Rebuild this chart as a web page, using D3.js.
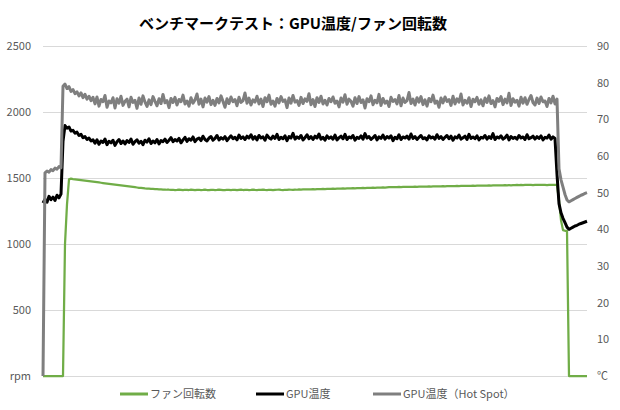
<!DOCTYPE html>
<html><head><meta charset="utf-8">
<script src="https://cdn.jsdelivr.net/npm/d3@7"></script>
<style>
body{margin:0;background:#fff;}
text{font-family:"Noto Sans CJK JP","Noto Sans",sans-serif;}
</style></head>
<body><svg id="c" width="620" height="410"></svg>
<script>
const title = "ベンチマークテスト：GPU温度/ファン回転数";
const seriesNames = ["ファン回転数", "GPU温度", "GPU温度（Hot Spot）"];
const leftTicks = [0, 500, 1000, 1500, 2000, 2500];
const leftTickLabels = ["rpm", "500", "1000", "1500", "2000", "2500"];
const rightTicks = [0, 10, 20, 30, 40, 50, 60, 70, 80, 90];
const rightTickLabels = ["℃", "10", "20", "30", "40", "50", "60", "70", "80", "90"];

// fan speed (rpm), one value per logged sample
const fanRpm = [
0,0,0,0,0,0,0,0,0,0,0,
1000,1300,1490,
1495,1492,1490,1488,1486,1484,1482,1480,1478,1476,
1474,1472,1470,1468,1466,1464,1462,1460,1458,1456,
1454,1452,1450,1448,1446,1444,1442,1440,1438,1436,
1434,1432,1430,1428,1426,1425,1423,1421,1420,1419,
1418,1417,1416,1415,1414,1413,1412,1412,1411,1411,
1410,
1411,1409,1410,1412,1410,1408,1411,1410,1409,1412,
1410,1408,1410,1411,1409,1410,1412,1409,1408,1410,
1411,1409,1410,1412,1410,1408,1409,1411,1410,1409,
1411,1410,1408,1410,1412,1409,1410,1411,1409,1410,
1412,1410,1409,1411,1410,1412,1410,1409,1411,1410,
1408,1410,1411,1412,1410,1409,1411,1410,1412,1411,
1410,1412,1411,1413,
1412,1413,1413,1414,1413,1414,1415,1414,1415,1416,
1416,1417,1416,1417,1418,1418,1419,1418,1419,1420,
1420,1421,1420,1421,1422,1422,1423,1422,1423,1424,
1424,1425,1424,1425,1426,1426,1427,1426,1427,1428,
1428,1429,1428,1429,1430,1430,1431,1430,1431,1432,
1431,1432,1432,1433,1432,1433,1433,1434,1433,1434,
1434,1435,1434,1435,1436,1435,1436,1436,1437,1436,
1437,1438,1437,1438,1438,1439,1438,1439,1440,1439,
1440,1440,1441,1440,1441,1441,1442,1441,1442,1442,
1443,1442,1443,1443,1444,1443,1444,1444,1445,1444,
1445,1445,1446,1445,1446,1445,1446,1446,1447,1446,
1447,1446,1447,1447,1448,1447,1446,1447,1448,1447,
1447,1448,1447,1446,1447,1448,1447,1447,
1447,1330,1180,1105,1100,1100,0,0,0,0,0,0,0,0,0,0
];

// GPU temperature (°C)
const gpuTemp = [
47.2,48.2,47.4,49.0,48.1,48.8,47.9,49.3,48.6,49.6,
64.0,68.3,
67.6,67.9,66.8,67.0,66.2,66.5,65.6,65.9,65.0,65.3,64.5,64.9,64.1,64.4,
63.5,64.4,63.2,64.1,63.7,64.6,63.1,64.0,63.6,64.3,
62.9,63.9,64.5,63.4,64.1,63.3,64.2,63.7,64.6,63.2,
63.9,64.4,63.5,64.0,63.1,64.3,63.8,64.7,63.4,64.1,
63.6,64.5,63.3,64.2,63.9,
64.6,63.7,64.3,65.0,63.9,64.5,64.1,64.8,63.6,64.4,
65.1,64.0,64.7,64.3,65.2,63.9,64.6,64.9,64.2,65.4,
64.5,64.1,64.9,65.3,64.3,64.8,65.6,64.4,65.0,64.6,
65.3,64.2,64.9,65.5,64.7,65.1,64.4,65.7,64.8,65.2,
64.5,65.4,64.9,65.8,64.6,
65.3,64.4,65.6,64.9,65.2,64.3,65.7,65.0,64.6,65.4,
64.8,65.9,64.5,65.1,64.7,65.5,64.2,65.3,64.9,66.2,
64.6,65.2,64.8,65.6,64.4,65.0,65.8,64.7,65.3,64.5,
65.4,64.9,66.0,64.6,65.1,64.3,65.5,64.8,65.2,64.6,
65.7,64.4,65.0,65.4,64.7,65.9,64.5,65.2,64.9,65.6,
64.3,65.1,64.8,65.5,64.6,66.1,64.9,65.3,64.5,65.0,
65.6,64.4,65.2,64.8,65.7,64.6,65.3,64.9,65.5,64.2,
65.1,64.7,65.8,64.5,65.2,64.9,65.4,64.6,66.0,64.8,
65.3,64.5,65.1,65.6,64.7,65.0,64.4,65.5,64.9,65.2,
64.6,65.8,64.8,65.3,64.5,65.1,65.6,64.7,65.4,64.3,
65.2,64.9,65.7,64.6,65.0,65.4,64.5,65.9,64.8,65.2,
64.7,65.5,64.4,65.1,64.9,65.6,64.6,65.3,64.8,66.1,
64.5,65.2,64.9,65.5,64.6,65.0,65.7,64.4,65.3,64.8,
65.1,64.6,65.6,64.9,65.2,64.5,65.8,64.7,65.0,65.4,
64.6,65.3,64.8,65.5,64.4,65.1,64.9,65.7,64.6,65.2,
64.8,
55.0,47.0,44.5,43.0,41.8,40.6,40.0,40.3,40.6,40.9,41.1,41.4,41.6,41.8,42.0,42.2
];

// GPU hot spot temperature (°C)
const hotSpotTemp = [
0,55.4,55.9,55.6,56.3,56.0,56.7,56.4,57.1,56.8,
79.0,79.6,
78.4,78.9,77.6,78.1,77.0,77.5,76.4,77.2,75.9,76.8,75.5,76.3,75.1,76.0,
74.2,76.1,73.6,75.4,74.8,76.5,73.3,75.0,74.5,75.9,
73.1,75.6,74.4,76.3,73.8,74.9,75.5,73.4,76.0,74.6,
75.2,73.0,75.8,74.1,76.4,74.7,73.5,75.3,74.0,76.2,
74.9,73.7,75.6,74.3,76.8,74.5,75.1,73.2,75.7,74.6,
76.0,73.9,75.4,74.8,76.6,74.2,75.0,73.6,75.9,74.4,
75.3,76.9,74.1,75.5,73.4,75.8,74.7,76.2,74.0,75.2,
73.8,75.7,74.5,76.4,74.9,73.3,75.6,74.3,76.1,74.8,
75.4,73.7,76.0,74.6,75.1,77.2,74.4,75.8,73.9,75.3,
74.7,76.3,74.2,75.5,73.5,75.9,74.8,76.6,74.1,75.0,
73.6,75.7,74.5,76.2,74.9,75.3,73.2,75.8,74.4,76.5,
74.7,75.1,73.8,76.0,74.3,75.6,74.9,77.0,74.0,75.4,
73.5,75.9,74.6,76.3,74.2,75.2,73.9,75.7,74.8,76.1,
74.4,75.0,73.4,75.8,74.7,76.7,74.1,75.5,74.9,73.6,
75.9,74.3,76.2,74.6,75.3,73.1,75.6,74.8,76.4,74.0,
75.2,74.5,76.8,73.8,75.7,74.4,75.0,73.5,76.0,74.9,
75.4,74.2,76.5,73.7,75.8,74.6,75.1,77.3,74.3,75.5,
73.9,75.9,74.7,76.2,74.0,75.3,73.6,75.7,74.8,76.6,
74.4,75.0,73.3,75.8,74.5,76.1,74.9,75.4,73.8,76.3,
74.2,75.6,74.7,76.9,73.9,75.2,74.4,75.9,73.5,75.5,
74.8,76.0,74.1,75.3,73.7,75.8,74.6,76.4,74.3,75.1,
73.4,75.7,74.9,76.2,74.0,75.5,74.5,77.1,73.8,75.6,
74.7,75.2,73.6,76.0,74.4,75.9,74.1,75.4,76.5,74.6,
73.9,75.8,74.3,76.1,74.8,75.0,73.5,75.7,74.5,76.3,
74.2,
75.5,56.5,53.5,51.5,49.5,48.0,47.5,47.8,48.1,48.4,48.7,49.0,49.3,49.5,49.8,50.0
];

const colors = ["#70ad47", "#000000", "#7f7f7f"];
const widths = [2.25, 3, 3];

const svg = d3.select("#c");
const L = 43, R = 587, T = 46, B = 376;
const n = Math.max(fanRpm.length, gpuTemp.length, hotSpotTemp.length);
const x = d3.scaleLinear().domain([0, n - 1]).range([L, R]);
const yL = d3.scaleLinear().domain([0, 2500]).range([B, T]);
const yR = d3.scaleLinear().domain([0, 90]).range([B, T]);

// title
svg.append("text").attr("x", 293).attr("y", 29).attr("text-anchor", "middle")
  .attr("font-size", 15).attr("font-weight", "bold").attr("fill", "#000").text(title);

// gridlines
svg.append("g").selectAll("line").data(leftTicks).join("line")
  .attr("x1", L).attr("x2", R).attr("y1", d => yL(d)).attr("y2", d => yL(d))
  .attr("stroke", "#d9d9d9").attr("stroke-width", 1).attr("shape-rendering", "crispEdges");

// left axis
const axL = d3.axisLeft(yL).tickValues(leftTicks).tickFormat((d, i) => leftTickLabels[i]).tickSize(0).tickPadding(12);
const gL = svg.append("g").attr("transform", `translate(${L},0)`).call(axL);
gL.select(".domain").remove();
gL.selectAll("text").attr("font-size", 11).attr("fill", "#595959").style("font-family", '"Noto Sans CJK JP","Noto Sans",sans-serif');

// right axis
const axR = d3.axisRight(yR).tickValues(rightTicks).tickFormat((d, i) => rightTickLabels[i]).tickSize(0).tickPadding(10);
const gR = svg.append("g").attr("transform", `translate(${R},0)`).call(axR);
gR.select(".domain").remove();
gR.selectAll("text").attr("font-size", 11).attr("fill", "#595959").style("font-family", '"Noto Sans CJK JP","Noto Sans",sans-serif');

// lines
const lineL = d3.line().x((d, i) => x(i)).y(d => yL(d));
const lineR = d3.line().x((d, i) => x(i)).y(d => yR(d));
svg.append("path").datum(fanRpm).attr("d", lineL).attr("fill", "none")
  .attr("stroke", colors[0]).attr("stroke-width", widths[0]).attr("stroke-linejoin", "round");
svg.append("path").datum(gpuTemp).attr("d", lineR).attr("fill", "none")
  .attr("stroke", colors[1]).attr("stroke-width", widths[1]).attr("stroke-linejoin", "round");
svg.append("path").datum(hotSpotTemp).attr("d", lineR).attr("fill", "none")
  .attr("stroke", colors[2]).attr("stroke-width", widths[2]).attr("stroke-linejoin", "round");

// legend
const legX = [120, 256, 373];
const legY = 394;
const lg = svg.append("g");
seriesNames.forEach((name, i) => {
  lg.append("line").attr("x1", legX[i]).attr("x2", legX[i] + 28).attr("y1", legY).attr("y2", legY)
    .attr("stroke", colors[i]).attr("stroke-width", 3);
  lg.append("text").attr("x", legX[i] + 30).attr("y", legY).attr("dy", "0.35em")
    .attr("font-size", 11).attr("fill", "#595959").text(name);
});
</script></body></html>
